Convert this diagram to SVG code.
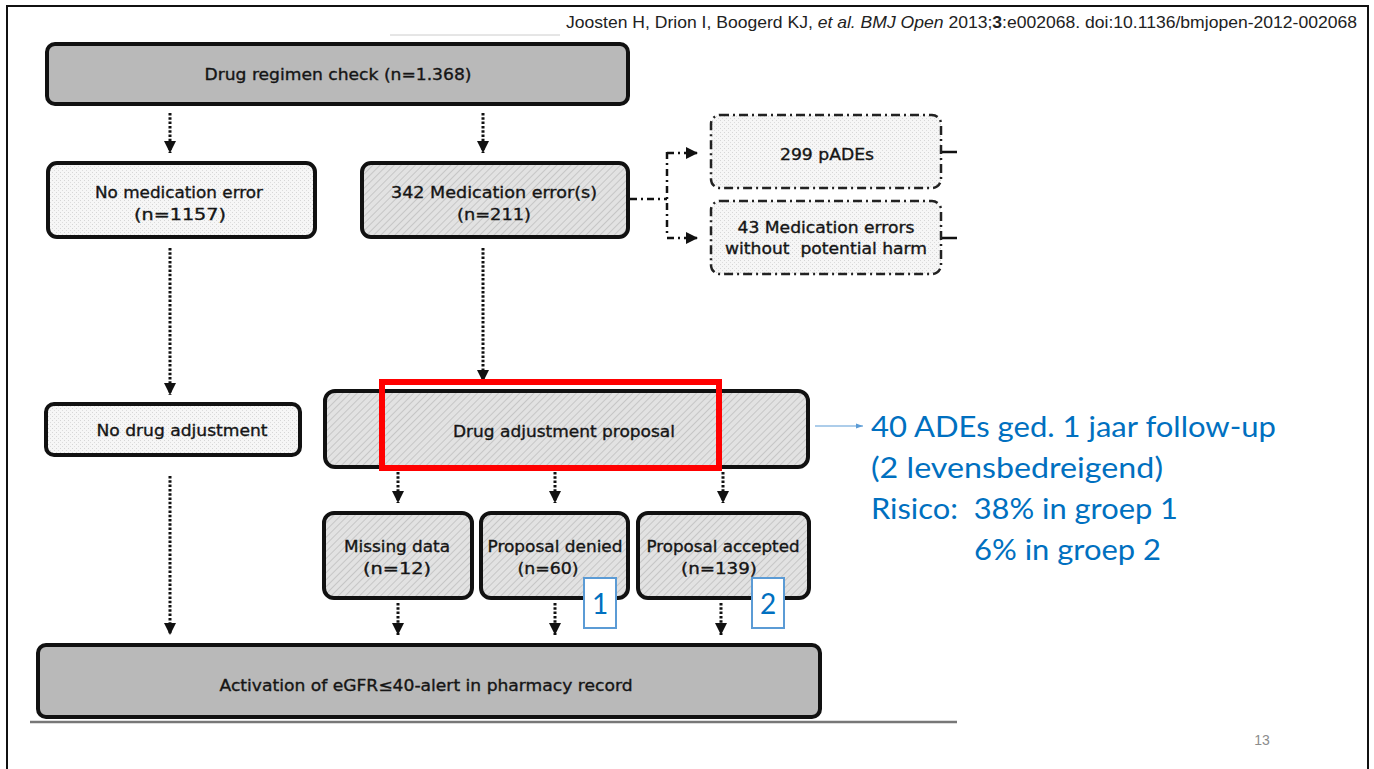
<svg xmlns="http://www.w3.org/2000/svg" width="1374" height="769" viewBox="0 0 1374 769">
  <style>
    .box { stroke: #111; stroke-width: 4; }
    .solid-dark { fill: #b9b9b9; }
    .dash { fill: url(#stipple); stroke: #222; stroke-width: 2.5; stroke-dasharray: 9 4 2 4; }
    .lbl { font-family: "DejaVu Sans", Verdana, sans-serif; font-size: 16px; fill: #151515; stroke: #151515; stroke-width: 0.35; text-anchor: middle; }
    .dot { fill: none; stroke: #111; stroke-width: 3; stroke-dasharray: 2.5 1.8; }
    .dashdot { fill: none; stroke: #111; stroke-width: 2.5; stroke-dasharray: 7 4 2 4; }
    .note { font-family: Lato, "Open Sans", "Liberation Sans", sans-serif; font-size: 28px; fill: #0070c0; }
    .tag { fill: #fff; stroke: #5b9bd5; stroke-width: 2; }
    .tagnum { font-family: Lato, "Open Sans", sans-serif; font-size: 28px; fill: #0070c0; text-anchor: middle; }
    .cite { font-family: "Liberation Sans", Arial, sans-serif; font-size: 17px; fill: #222; }
  </style>
  <defs>
    <pattern id="hatch" width="5" height="5" patternUnits="userSpaceOnUse" patternTransform="rotate(45)">
      <rect width="5" height="5" fill="#e2e2e2"/>
      <line x1="0" y1="0" x2="0" y2="5" stroke="#b4b4b4" stroke-width="1.2"/>
    </pattern>
    <pattern id="stipple" width="4" height="4" patternUnits="userSpaceOnUse">
      <rect width="4" height="4" fill="#f6f6f6"/>
      <rect x="0" y="0" width="1" height="1" fill="#d6d6d6"/>
      <rect x="2" y="2" width="1" height="1" fill="#dcdcdc"/>
    </pattern>
    <!-- solid triangular head, drawn along +x and turned with the line -->
    <marker id="tri" markerWidth="14" markerHeight="14" refX="12" refY="7" orient="auto" markerUnits="userSpaceOnUse" viewBox="0 0 14 14">
      <path d="M0,1 L12,7 L0,13 Z" fill="#111"/>
    </marker>
    <marker id="blueArr" markerWidth="8" markerHeight="8" refX="7" refY="4" orient="auto" markerUnits="userSpaceOnUse" viewBox="0 0 8 8">
      <path d="M0,1.5 L7,4 L0,6.5 Z" fill="#5b9bd5"/>
    </marker>
  </defs>

  <!-- page background and frame -->
  <rect width="1374" height="769" fill="#fff"/>
  <path d="M7,769 L7,6 L1368,6 L1368,769" fill="none" stroke="#111" stroke-width="2"/>
  <line x1="390" y1="35" x2="560" y2="35" stroke="#ccc" stroke-width="1"/>

  <!-- citation -->
  <text class="cite" x="566" y="28" textLength="791" lengthAdjust="spacingAndGlyphs">Joosten H, Drion I, Boogerd KJ, <tspan font-style="italic">et al.</tspan> <tspan font-style="italic">BMJ Open</tspan> 2013;<tspan font-weight="bold">3</tspan>:e002068. doi:10.1136/bmjopen-2012-002068</text>

  <!-- connectors -->
  <g id="connectors">
    <line class="dot" x1="170" y1="113" x2="170" y2="153" marker-end="url(#tri)"/>
    <line class="dot" x1="483" y1="113" x2="483" y2="153" marker-end="url(#tri)"/>
    <line class="dot" x1="170" y1="248" x2="170" y2="395" marker-end="url(#tri)"/>
    <line class="dot" x1="483" y1="248" x2="483" y2="382" marker-end="url(#tri)"/>
    <path class="dashdot" d="M630,199 L667,199"/>
    <path class="dashdot" d="M667,152 L667,236"/>
    <line class="dashdot" x1="667" y1="153" x2="698" y2="153" marker-end="url(#tri)"/>
    <line class="dashdot" x1="667" y1="238" x2="698" y2="238" marker-end="url(#tri)"/>
    <path d="M941,152 L957,152 M941,238 L957,238" stroke="#111" stroke-width="2.5"/>
    <line class="dot" x1="398" y1="472" x2="398" y2="503" marker-end="url(#tri)"/>
    <line class="dot" x1="555" y1="472" x2="555" y2="503" marker-end="url(#tri)"/>
    <line class="dot" x1="723" y1="472" x2="723" y2="503" marker-end="url(#tri)"/>
    <line class="dot" x1="170" y1="476" x2="170" y2="635" marker-end="url(#tri)"/>
    <line class="dot" x1="398" y1="603" x2="398" y2="635" marker-end="url(#tri)"/>
    <line class="dot" x1="555" y1="603" x2="555" y2="635" marker-end="url(#tri)"/>
    <line class="dot" x1="721" y1="603" x2="721" y2="635" marker-end="url(#tri)"/>
    <line x1="815" y1="426" x2="863" y2="426" stroke="#5b9bd5" stroke-width="1" marker-end="url(#blueArr)"/>
  </g>

  <g id="regimen-check">
    <rect class="box solid-dark" x="47" y="44" width="581" height="60" rx="8"/>
    <text class="lbl" x="338" y="80" textLength="267" lengthAdjust="spacingAndGlyphs">Drug regimen check (n=1.368)</text>
  </g>

  <g id="no-medication-error">
    <rect class="box" x="48" y="163" width="267" height="74" rx="9" fill="url(#stipple)"/>
    <text class="lbl" x="179" y="198" textLength="168" lengthAdjust="spacingAndGlyphs">No medication error</text>
    <text class="lbl" x="180" y="220" textLength="92" lengthAdjust="spacingAndGlyphs">(n=1157)</text>
  </g>

  <g id="medication-errors">
    <rect class="box" x="362" y="163" width="266" height="74" rx="9" fill="url(#hatch)"/>
    <text class="lbl" x="494" y="198" textLength="206" lengthAdjust="spacingAndGlyphs">342 Medication error(s)</text>
    <text class="lbl" x="494" y="220" textLength="74" lengthAdjust="spacingAndGlyphs">(n=211)</text>
  </g>

  <g id="pades">
    <rect class="dash" x="711" y="115" width="230" height="73" rx="9"/>
    <text class="lbl" x="827" y="160" textLength="94" lengthAdjust="spacingAndGlyphs">299 pADEs</text>
  </g>

  <g id="errors-no-harm">
    <rect class="dash" x="711" y="201" width="230" height="73" rx="9"/>
    <text class="lbl" x="826" y="233" textLength="177" lengthAdjust="spacingAndGlyphs">43 Medication errors</text>
    <text class="lbl" x="826" y="254" textLength="202" lengthAdjust="spacingAndGlyphs" xml:space="preserve">without  potential harm</text>
  </g>

  <g id="no-drug-adjustment">
    <rect class="box" x="46" y="404" width="254" height="51" rx="8" fill="url(#stipple)"/>
    <text class="lbl" x="182" y="436" textLength="171" lengthAdjust="spacingAndGlyphs">No drug adjustment</text>
  </g>

  <g id="drug-adjustment-proposal">
    <rect class="box" x="325" y="391" width="483" height="76" rx="10" fill="url(#hatch)"/>
    <text class="lbl" x="564" y="437" textLength="222" lengthAdjust="spacingAndGlyphs">Drug adjustment proposal</text>
    <rect x="382" y="382" width="337" height="86" fill="none" stroke="#ff0000" stroke-width="6"/>
  </g>

  <g id="missing-data">
    <rect class="box" x="324" y="513" width="148" height="85" rx="10" fill="url(#hatch)"/>
    <text class="lbl" x="397" y="552" textLength="106" lengthAdjust="spacingAndGlyphs">Missing data</text>
    <text class="lbl" x="397" y="574" textLength="68" lengthAdjust="spacingAndGlyphs">(n=12)</text>
  </g>

  <g id="proposal-denied">
    <rect class="box" x="481" y="513" width="147" height="85" rx="10" fill="url(#hatch)"/>
    <text class="lbl" x="555" y="552" textLength="135" lengthAdjust="spacingAndGlyphs">Proposal denied</text>
    <text class="lbl" x="548" y="574" textLength="61" lengthAdjust="spacingAndGlyphs">(n=60)</text>
    <rect class="tag" x="584" y="578" width="32" height="50"/>
    <text class="tagnum" x="600" y="614">1</text>
  </g>

  <g id="proposal-accepted">
    <rect class="box" x="638" y="513" width="171" height="85" rx="10" fill="url(#hatch)"/>
    <text class="lbl" x="723" y="552" textLength="153" lengthAdjust="spacingAndGlyphs">Proposal accepted</text>
    <text class="lbl" x="719" y="574" textLength="76" lengthAdjust="spacingAndGlyphs">(n=139)</text>
    <rect class="tag" x="752" y="578" width="32" height="50"/>
    <text class="tagnum" x="768" y="614">2</text>
  </g>

  <g id="egfr-alert">
    <rect class="box solid-dark" x="38" y="645" width="782" height="72" rx="8"/>
    <text class="lbl" x="426" y="691" textLength="413" lengthAdjust="spacingAndGlyphs">Activation of eGFR≤40-alert in pharmacy record</text>
  </g>
  <line x1="30" y1="722" x2="957" y2="722" stroke="#777" stroke-width="2.5"/>

  <g id="outcome-note">
    <text class="note" x="871" y="437" textLength="405" lengthAdjust="spacingAndGlyphs">40 ADEs ged. 1 jaar follow-up</text>
    <text class="note" x="871" y="478" textLength="292" lengthAdjust="spacingAndGlyphs">(2 levensbedreigend)</text>
    <text class="note" x="871" y="519" textLength="307" lengthAdjust="spacingAndGlyphs" xml:space="preserve">Risico:  38% in groep 1</text>
    <text class="note" x="974" y="560" textLength="187" lengthAdjust="spacingAndGlyphs">6% in groep 2</text>
  </g>

  <text x="1262" y="745" font-family="'Liberation Sans', Arial, sans-serif" font-size="14" fill="#8c8c8c" text-anchor="middle">13</text>
</svg>
